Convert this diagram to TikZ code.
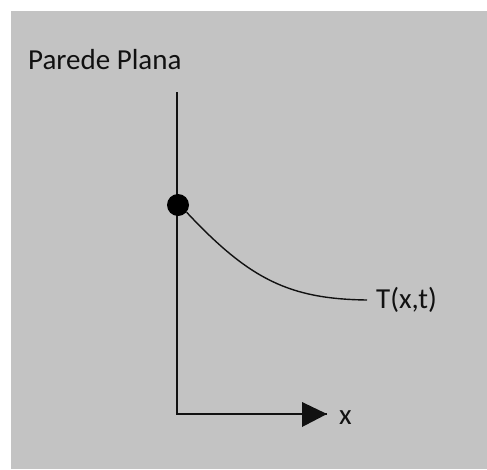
\documentclass[tikz,border=0pt]{standalone}
\usepackage{fontspec}
\setmainfont{Carlito}
\usetikzlibrary{arrows.meta}
\definecolor{panel}{HTML}{C3C3C3}
\definecolor{ink}{HTML}{111111}

\begin{document}
\begin{tikzpicture}[x=1pt,y=-1pt,>=Latex,line cap=butt,line join=miter,
  txt/.style={font=\fontsize{29}{34}\selectfont,text=ink,inner sep=0pt},
  axis/.style={ink,line width=2pt}]
\useasboundingbox (0,0) rectangle (487,469);
\fill[panel] (11,11) rectangle (487,469);
\node[txt,anchor=west] (title) at (28,60) {Parede Plana};
\coordinate (top) at (177,92);
\coordinate (origin) at (177,414);
\coordinate (xtip) at (327,414);
\draw[axis] (top)--(origin)--(xtip);
\fill[ink] (302,402)--(327,414)--(302,427)--cycle;
\node[txt,anchor=west] (xlbl) at (339,418) {x};
\node[circle,fill=black,inner sep=0pt,minimum size=22pt] (dot) at (178,205) {};
\node[txt,anchor=west] (tlbl) at (376,300) {T(x,t)};
\draw[ink,line width=1.4pt] (dot.-40) .. controls (250,280) and (290,299) .. ([xshift=-9pt]tlbl.west);
\end{tikzpicture}
\end{document}
